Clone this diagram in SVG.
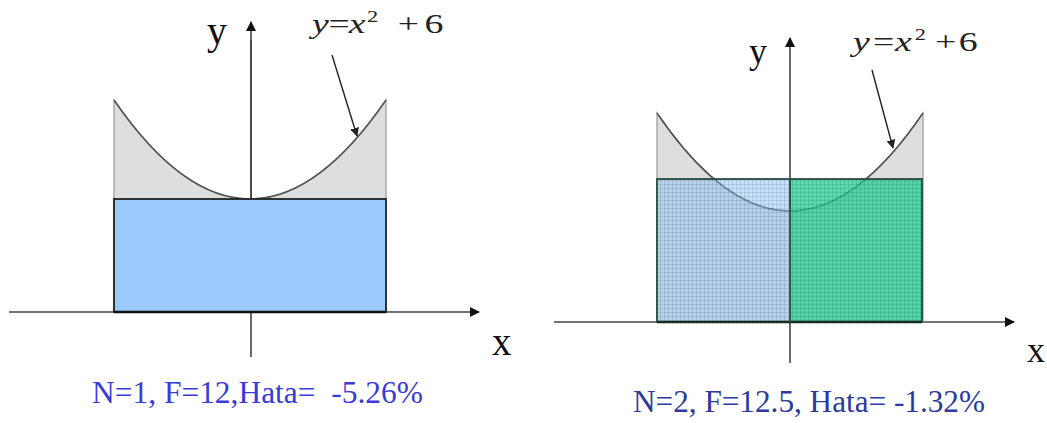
<svg xmlns="http://www.w3.org/2000/svg" width="1047" height="423" viewBox="0 0 1047 423">
<style>
.axis{stroke:#444;stroke-width:1.6;fill:none}
.curve{stroke:#555;stroke-width:1.6;fill:none}
.under{fill:#dedede;stroke:#999;stroke-width:1.2}
.lbl{font-family:"Liberation Serif","Times New Roman",serif;fill:#111}
.math{font-family:"Liberation Serif","Times New Roman",serif;fill:#222;font-size:27px}
.it{font-style:italic}
.sup{font-size:16px}
.cap1{font-family:"Liberation Serif","Times New Roman",serif;font-size:31px;fill:#3b3bd6}
.cap2{font-family:"Liberation Serif","Times New Roman",serif;font-size:31px;fill:#2b3a9c}
.ptr{stroke:#222;stroke-width:1.4;fill:none}
</style>
<defs>
<marker id="ah" viewBox="0 0 10 10" refX="9" refY="5" markerWidth="10" markerHeight="10" markerUnits="userSpaceOnUse" orient="auto">
<path d="M0,0 L10,5 L0,10 Z" fill="#111"/>
</marker>
<marker id="ap" viewBox="0 0 10 10" refX="9" refY="5" markerWidth="9" markerHeight="9" markerUnits="userSpaceOnUse" orient="auto">
<path d="M0,0 L10,5 L0,10 Z" fill="#222"/>
</marker>
<pattern id="grid" width="4" height="4" patternUnits="userSpaceOnUse">
<path d="M0,0.5 H4 M0.5,0 V4" stroke="#000" stroke-opacity="0.1" stroke-width="1"/>
</pattern>
</defs>

<g id="panel1">
<g id="axes1">
<line class="axis" x1="9" y1="312" x2="479" y2="312" marker-end="url(#ah)"/>
<line class="axis" x1="251" y1="357" x2="251" y2="22" marker-end="url(#ah)"/>
</g>
<path class="under" d="M114,100 Q250,298 386,100 L386,312 L114,312 Z"/>
<path class="curve" d="M114,100 Q250,298 386,100"/>
<line class="axis" x1="251" y1="40" x2="251" y2="199"/>
<rect x="114" y="199" width="272" height="113" fill="#9acbfc" stroke="#222" stroke-width="1.8"/>
<line x1="114" y1="312" x2="386" y2="312" stroke="#111" stroke-width="2.6"/>
<line class="ptr" x1="332" y1="55" x2="357" y2="136" marker-end="url(#ap)"/>
<text class="lbl" x="207" y="44" font-size="40">y</text>
<text class="lbl" x="492" y="355" font-size="39">x</text>
<text class="math" transform="translate(311,33) scale(1.4,1)"><tspan class="it" x="0.7" y="0">y</tspan><tspan x="12.5" y="0">=</tspan><tspan class="it" x="27" y="0">x</tspan><tspan class="sup" x="40" y="-11">2</tspan><tspan x="62" y="0">+</tspan><tspan x="81" y="0">6</tspan></text>
<text class="cap1" x="92" y="403" textLength="331" lengthAdjust="spacingAndGlyphs">N=1, F=12,Hata=&#160; -5.26%</text>
</g>

<g id="panel2">
<g id="axes2">
<line class="axis" x1="554" y1="322" x2="1014" y2="322" marker-end="url(#ah)"/>
<line class="axis" x1="790" y1="363" x2="790" y2="38" marker-end="url(#ah)"/>
</g>
<path class="under" d="M657,113 Q790,309 923,113 L923,322 L657,322 Z"/>
<path class="curve" d="M657,113 Q790,309 923,113"/>
<rect x="657" y="179" width="133" height="143" fill="#89c5f9" fill-opacity="0.5"/>
<rect x="790" y="179" width="132" height="143" fill="#1fd292" fill-opacity="0.75"/>
<rect x="657" y="179" width="265" height="143" fill="url(#grid)"/>
<rect x="657" y="179" width="265" height="143" fill="none" stroke="#2c4a40" stroke-width="1.8"/>
<line x1="657" y1="322" x2="922" y2="322" stroke="#1a2a24" stroke-width="2.6"/>
<line x1="790" y1="179" x2="790" y2="322" stroke="#2c4a40" stroke-width="1.8"/>
<line class="ptr" x1="872" y1="70" x2="893" y2="148" marker-end="url(#ap)"/>
<text class="lbl" x="749" y="63" font-size="36">y</text>
<text class="lbl" x="1027" y="362" font-size="36">x</text>
<text class="math" transform="translate(851,51) scale(1.4,1)"><tspan class="it" x="1.4" y="0">y</tspan><tspan x="15.7" y="0">=</tspan><tspan class="it" x="31.4" y="0">x</tspan><tspan class="sup" x="45.5" y="-11">2</tspan><tspan x="60" y="0">+</tspan><tspan x="77" y="0">6</tspan></text>
<text class="cap2" x="633" y="412" textLength="352" lengthAdjust="spacingAndGlyphs">N=2, F=12.5, Hata= -1.32%</text>
</g>
</svg>
